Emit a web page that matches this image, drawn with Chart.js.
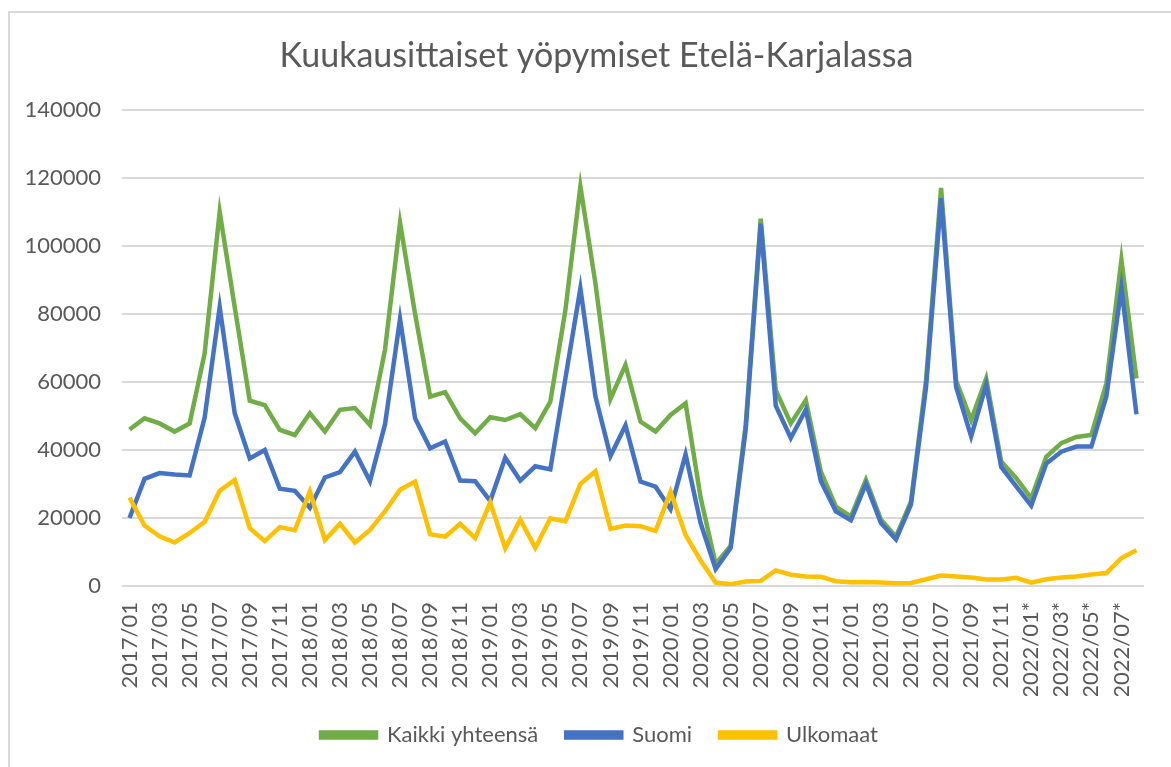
<!DOCTYPE html>
<html>
<head>
<meta charset="utf-8">
<script src="https://cdn.jsdelivr.net/npm/chart.js@4"></script>
<style>
    html, body { margin: 0; padding: 0; background: #fff; }
    #wrap { position: relative; width: 1171px; height: 767px; overflow: hidden; }
    #frame { position: absolute; left: 8px; top: 11px; width: 1200px; height: 800px; border: 2px solid #d9d9d9; }
    #myLineChart { position: absolute; left: 0; top: 0; }
</style>
</head>
<body>
<div id="wrap">
    <div id="frame"></div>
    <canvas id="myLineChart" width="1171" height="767"></canvas>
</div>
<script>
const months = [
    '2017/01', '2017/02', '2017/03', '2017/04', '2017/05', '2017/06', '2017/07', '2017/08', '2017/09', '2017/10', '2017/11', '2017/12',
    '2018/01', '2018/02', '2018/03', '2018/04', '2018/05', '2018/06', '2018/07', '2018/08', '2018/09', '2018/10', '2018/11', '2018/12',
    '2019/01', '2019/02', '2019/03', '2019/04', '2019/05', '2019/06', '2019/07', '2019/08', '2019/09', '2019/10', '2019/11', '2019/12',
    '2020/01', '2020/02', '2020/03', '2020/04', '2020/05', '2020/06', '2020/07', '2020/08', '2020/09', '2020/10', '2020/11', '2020/12',
    '2021/01', '2021/02', '2021/03', '2021/04', '2021/05', '2021/06', '2021/07', '2021/08', '2021/09', '2021/10', '2021/11', '2021/12',
    '2022/01*', '2022/02*', '2022/03*', '2022/04*', '2022/05*', '2022/06*', '2022/07*', '2022/08*'
];

const kaikkiYhteensa = [
    46000, 49300, 47800, 45400, 47800, 68400, 110000, 82000, 54500, 53200, 45900, 44400,
    50800, 45400, 51800, 52300, 47300, 69500, 106800, 80000, 55700, 57000, 49300, 44900,
    49600, 48800, 50500, 46400, 54200, 81000, 117500, 89000, 55000, 65000, 48300, 45400,
    50300, 53700, 26000, 6500, 11800, 47500, 108000, 57600, 47800, 54600, 33600, 23300,
    20400, 31200, 19500, 14500, 24900, 60500, 117000, 60300, 48800, 61000, 36600, 31700,
    25800, 38000, 42000, 43800, 44400, 59600, 95900, 61000
];

const suomi = [
    20000, 31500, 33200, 32800, 32500, 49500, 82000, 50800, 37500, 40000, 28600, 28000,
    23000, 31900, 33500, 39500, 30800, 47500, 78500, 49300, 40500, 42500, 31000, 30800,
    25000, 37700, 31000, 35200, 34300, 61000, 87500, 55800, 38200, 47200, 30700, 29200,
    22600, 38700, 18500, 5000, 11200, 46000, 106500, 53000, 43500, 51800, 30900, 21900,
    19300, 30000, 18500, 13700, 24000, 58500, 114000, 58500, 44000, 59100, 35000, 29300,
    23600, 36000, 39500, 41000, 41000, 55800, 87700, 50500
];

const ulkomaat = [
    26000, 17800, 14600, 12800, 15600, 18900, 28000, 31200, 17000, 13200, 17300, 16400,
    27800, 13500, 18300, 12800, 16500, 22000, 28300, 30700, 15200, 14500, 18300, 14100,
    24600, 11100, 19500, 11200, 19900, 19000, 30000, 33700, 16800, 17800, 17600, 16200,
    27700, 15000, 7500, 1000, 500, 1300, 1500, 4600, 3300, 2800, 2700, 1400,
    1100, 1200, 1000, 800, 900, 2000, 3100, 2800, 2500, 1900, 1900, 2400,
    1000, 2000, 2500, 2800, 3400, 3800, 8200, 10500
];

const seriesNames = ['Kaikki yhteensä', 'Suomi', 'Ulkomaat'];
const seriesColors = ['#70ad47', '#4472c4', '#ffc000'];

const textColor = '#595959';
const fontName = 'Lato, "Open Sans", sans-serif';

function makeDataset(i, values) {
    return {
        label: seriesNames[i],
        data: values,
        borderColor: seriesColors[i],
        backgroundColor: seriesColors[i],
        borderWidth: 4.5,
        pointRadius: 0,
        tension: 0,
        fill: false,
        order: 3 - i
    };
}

// excel centres title and legend on the whole chart frame, not on the canvas minus padding
const shiftBlocks = {
    id: 'shiftBlocks',
    afterLayout(chart) {
        if (chart.titleBlock) {
            chart.titleBlock.left += 17;
            chart.titleBlock.right += 17;
        }
        if (chart.legend) {
            chart.legend.left += 20;
            chart.legend.right += 20;
        }
    }
};

function createLineChart() {
    const config = {
        type: 'line',
        data: {
            labels: months,
            datasets: [
                makeDataset(0, kaikkiYhteensa),
                makeDataset(1, suomi),
                makeDataset(2, ulkomaat)
            ]
        },
        options: {
            responsive: false,
            animation: false,
            layout: {
                padding: { left: 8, right: 20, top: 22, bottom: 11 }
            },
            plugins: {
                title: {
                    display: true,
                    text: 'Kuukausittaiset yöpymiset Etelä-Karjalassa',
                    color: textColor,
                    font: { family: fontName, size: 34, weight: 'normal' },
                    padding: { top: 14, bottom: 33 }
                },
                legend: {
                    position: 'bottom',
                    labels: {
                        color: textColor,
                        font: { family: fontName, size: 22 },
                        boxWidth: 55,
                        boxHeight: 5,
                        padding: 28,
                        sort: (a, b) => a.datasetIndex - b.datasetIndex
                    }
                },
                tooltip: { enabled: false }
            },
            scales: {
                x: {
                    offset: true,
                    afterFit: function (scale) { scale.height = 110; },
                    grid: { display: false },
                    border: { display: false },
                    ticks: {
                        autoSkip: false,
                        maxRotation: 90,
                        minRotation: 90,
                        padding: 8,
                        color: textColor,
                        font: { family: fontName, size: 22 },
                        callback: function (val, idx) {
                            return idx % 2 === 0 ? months[idx] : '';
                        }
                    }
                },
                y: {
                    min: 0,
                    max: 140000,
                    afterFit: function (scale) { scale.width = 114; },
                    grid: { color: '#d9d9d9', lineWidth: 2, drawTicks: false },
                    border: { display: false },
                    ticks: {
                        stepSize: 20000,
                        padding: 21,
                        color: textColor,
                        font: { family: fontName, size: 22 },
                        callback: function (val) { return String(val); }
                    }
                }
            }
        },
        plugins: [shiftBlocks]
    };

    const ctx = document.getElementById('myLineChart').getContext('2d');
    new Chart(ctx, config);
}

window.onload = createLineChart;
</script>
</body>
</html>
